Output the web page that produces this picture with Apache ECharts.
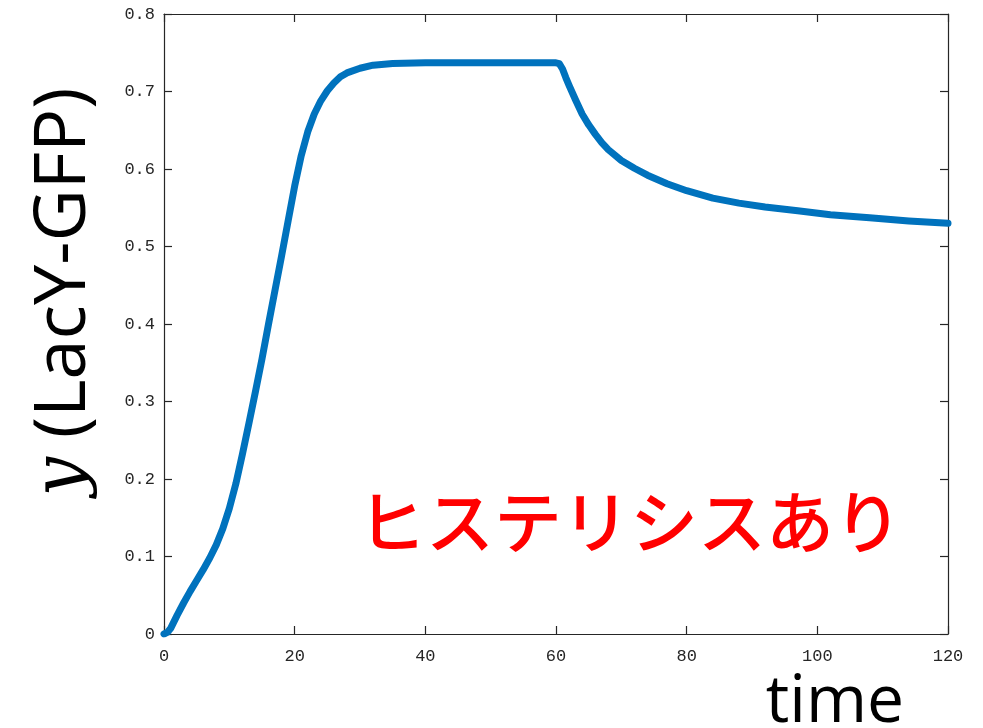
<!DOCTYPE html>
<html>
<head>
<meta charset="utf-8">
<script src="https://cdn.jsdelivr.net/npm/echarts@6/dist/echarts.min.js"></script>
<style>
  html, body { margin: 0; padding: 0; background: #fff; }
  #chart { width: 983px; height: 728px; }
</style>
</head>
<body>
<div id="chart"></div>
<script>
// LacY-GFP level over time (induction, then partial decay with memory)
const timePoints = [0, 0.5, 1, 2, 3, 4, 5, 6, 7, 8, 9, 10, 11, 12, 13, 14, 15, 16, 17, 18, 19, 20,
  21, 22, 23, 24, 25, 26, 27, 28, 30, 32, 35, 40, 50, 60,
  60.5, 61, 61.5, 62, 63, 64, 65, 66, 67, 68, 70, 72, 74, 77, 80, 84, 88, 92, 97, 102, 108, 114, 120];
const lacyGfp = [0, 0.002, 0.007, 0.024, 0.040, 0.055, 0.069, 0.083, 0.098, 0.115, 0.136, 0.162, 0.194, 0.232, 0.272, 0.313, 0.355, 0.400, 0.444, 0.488, 0.533, 0.578,
  0.617, 0.648, 0.671, 0.688, 0.701, 0.711, 0.719, 0.724, 0.730, 0.734, 0.736, 0.737, 0.737, 0.737,
  0.736, 0.729, 0.718, 0.708, 0.689, 0.671, 0.657, 0.645, 0.634, 0.625, 0.611, 0.601, 0.592, 0.581, 0.572, 0.5625, 0.556, 0.551, 0.546, 0.541, 0.537, 0.533, 0.530];

const xTicks = [0, 20, 40, 60, 80, 100, 120];
const yTicks = [0, 0.1, 0.2, 0.3, 0.4, 0.5, 0.6, 0.7, 0.8];
const annotation = 'ヒステリシスあり';
const xName = 'time';

const axisColor = '#262626';
const tickFont = { fontFamily: 'Liberation Mono', fontSize: 17, color: axisColor };

const chart = echarts.init(document.getElementById('chart'), null, { renderer: 'canvas' });

const boxX = (pos, showLabel) => ({
  type: 'value', position: pos, min: xTicks[0], max: xTicks[xTicks.length - 1],
  interval: xTicks[1] - xTicks[0],
  axisLine: { show: true, onZero: false, lineStyle: { color: axisColor, width: 1.2 } },
  axisTick: { show: true, inside: true, length: 8, lineStyle: { color: axisColor, width: 1.2 } },
  axisLabel: Object.assign({ show: showLabel, margin: 14 }, tickFont),
  splitLine: { show: false }
});
const boxY = (pos, showLabel) => ({
  type: 'value', position: pos, min: yTicks[0], max: yTicks[yTicks.length - 1],
  interval: 0.1,
  axisLine: { show: true, onZero: false, lineStyle: { color: axisColor, width: 1.2 } },
  axisTick: { show: true, inside: true, length: 8, lineStyle: { color: axisColor, width: 1.2 } },
  axisLabel: Object.assign({ show: showLabel, margin: 9, formatter: v => (v === 0 ? '0' : v.toFixed(1)) }, tickFont),
  splitLine: { show: false }
});

const yAxisMain = boxY('left', true);
yAxisMain.name = '{i|y}{s|\u00a0(LacY-GFP)}';
yAxisMain.nameLocation = 'middle';
yAxisMain.nameGap = 64;
yAxisMain.nameTextStyle = {
  padding: [0, 0, 0, 64],
  rich: {
    i: { fontFamily: 'DejaVu Serif', fontStyle: 'italic', fontSize: 70, color: '#000' },
    s: { fontFamily: 'Open Sans', fontSize: 72, color: '#000' }
  }
};

chart.setOption({
  animation: false,
  backgroundColor: '#ffffff',
  grid: { left: 164, right: 35, top: 14, bottom: 94, containLabel: false },
  xAxis: [boxX('bottom', true), boxX('top', false)],
  yAxis: [yAxisMain, boxY('right', false)],
  series: [{
    type: 'line',
    xAxisIndex: 0,
    yAxisIndex: 0,
    data: timePoints.map((t, i) => [t, lacyGfp[i]]),
    showSymbol: false,
    lineStyle: { color: '#0072BD', width: 7, cap: 'round', join: 'round' }
  }],
  graphic: [
    {
      type: 'text', x: 630, y: 522,
      style: { text: annotation, fill: '#ff0000', fontFamily: 'Noto Sans CJK JP', fontSize: 68,
        fontWeight: 500, textAlign: 'center', textVerticalAlign: 'middle' }
    },
    {
      type: 'text', x: 835, y: 703,
      style: { text: xName, fill: '#000', fontFamily: 'Open Sans', fontSize: 66,
        textAlign: 'center', textVerticalAlign: 'middle' }
    }
  ]
});
</script>
</body>
</html>
